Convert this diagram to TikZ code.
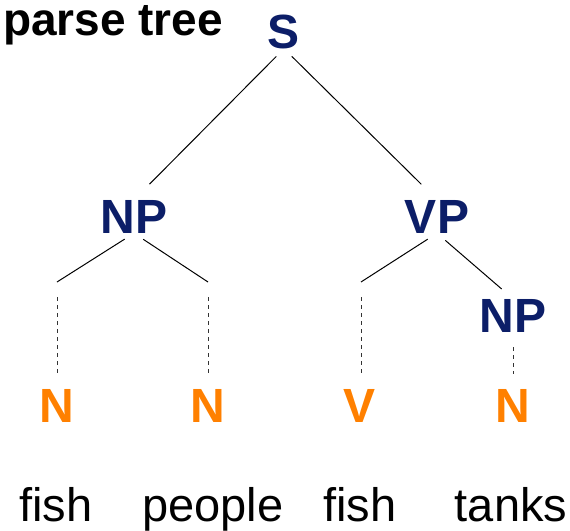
\documentclass[tikz,border=0pt]{standalone}
\usepackage{fontspec}
\setmainfont{Liberation Sans}
\usepackage{tikz}
\usetikzlibrary{positioning}
\definecolor{treeblue}{RGB}{12,30,104}
\definecolor{treeorange}{RGB}{255,128,0}
\tikzset{
	phrase/.style={text=treeblue, font=\fontsize{48}{48}\selectfont\bfseries, inner sep=0pt, anchor=base},
	tag/.style={text=treeorange, font=\fontsize{48}{48}\selectfont\bfseries, inner sep=0pt, anchor=base},
	word/.style={font=\fontsize{47}{47}\selectfont, inner sep=0pt, anchor=base},
	branch/.style={line width=1pt, shorten <=11pt},
	elide/.style={line width=1pt, dash pattern=on 4pt off 4pt, black!80, shorten <=15pt, shorten >=15pt}
}
\begin{document}
\begin{tikzpicture}[x=1pt,y=-1pt]
		\useasboundingbox (0,0) rectangle (570,530);
		\node[font=\fontsize{46}{46}\selectfont\bfseries, inner sep=0pt, anchor=base west] (title) at (3,35) {parse tree};
		% phrases
		\node[phrase] (S) at (284,48) {S};
		\node[phrase] (NPa) at (134,233) {NP};
		\node[phrase] (VP) at (437,233) {VP};
		\node[phrase] (NPb) at (513,332) {NP};
		% tags and words
		\node[tag] (Na) at (57,422) {N};
		\node[tag] (Nb) at (208,422) {N};
		\node[tag] (V) at (360,422) {V};
		\node[tag] (Nc) at (513,422) {N};
		\node[word] (fisha) at (56,521) {fish};
		\node[word] (people) at (213,521) {people};
		\node[word] (fishb) at (360,521) {fish};
		\node[word] (tanks) at (511,521) {tanks};
		% branch ends
		\coordinate (ea) at (57,282);
		\coordinate (eb) at (208,282);
		\coordinate (ec) at (361,282);
		\draw[branch, shorten >=22pt] (S.south) -- (NPa.north);
		\draw[branch, shorten >=22pt] (S.south) -- (VP.north);
		\draw[branch] (NPa.south) -- (ea);
		\draw[branch] (NPa.south) -- (eb);
		\draw[branch] (VP.south) -- (ec);
		\draw[branch, shorten >=15pt] (VP.south) -- (NPb.north);
		\draw[elide] (ea) -- (Na.north);
		\draw[elide] (eb) -- (Nb.north);
		\draw[elide] (ec) -- (ec |- V.north);
		\draw[elide] (NPb.south) -- (Nc.north);
	\end{tikzpicture}
\end{document}
